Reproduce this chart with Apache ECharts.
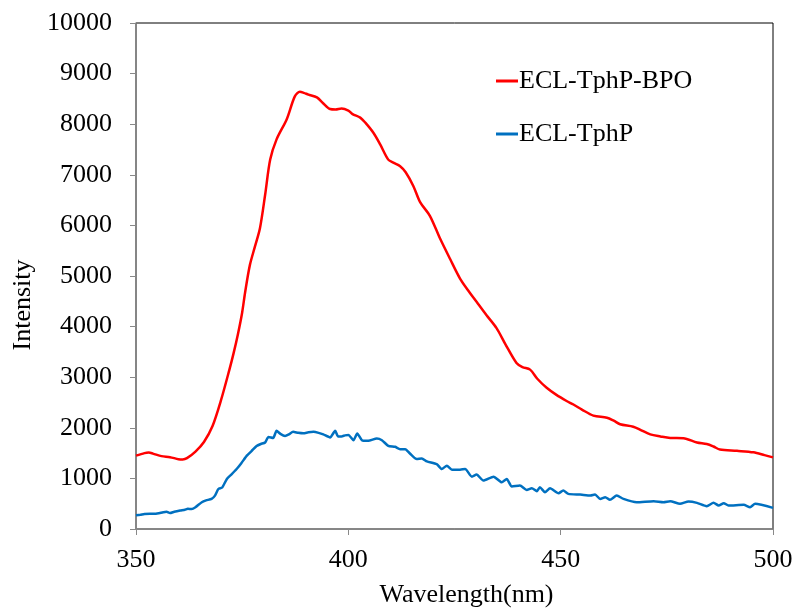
<!DOCTYPE html>
<html><head><meta charset="utf-8">
<script src="https://cdn.jsdelivr.net/npm/echarts@6/dist/echarts.min.js"></script>
<style>html,body{margin:0;padding:0;background:#fff}#c{width:798px;height:613px}</style>
</head><body><div id="c"></div>
<script>
const seriesNames = ["ECL-TphP-BPO", "ECL-TphP"];
const xTicks = [350, 400, 450, 500];
const yTicks = [0,1000,2000,3000,4000,5000,6000,7000,8000,9000,10000];

const redX = [350,352,353,354,356,358,360,361,362,364,366,368,370,372,373,374,375,375.7,376.8,378,379.2,380.4,381.6,383.1,385.5,387.4,388.6,389.5,390.6,392.6,394,395.7,397,398.4,400,401,402.8,404,405.9,407.5,409.4,410.6,412.2,413.5,415.3,416.9,419.2,421.6,424,426.3,428,430.2,432.5,434.9,437,439.6,441,442.8,444.5,446.7,449,451.4,453,455,457.7,460.9,462.5,464,467.1,469,471.1,473.5,475.8,478.9,482.1,484.4,486,487.5,491.5,495.4,498,500];
const redY = [1450,1500,1510,1490,1440,1420,1380,1375,1400,1530,1720,2030,2540,3150,3480,3850,4280,4680,5210,5580,5950,6600,7300,7700,8100,8550,8640,8620,8585,8530,8420,8300,8290,8310,8270,8200,8130,8030,7830,7600,7300,7240,7170,7050,6780,6460,6190,5740,5330,4950,4740,4490,4230,3970,3650,3280,3200,3150,2970,2790,2650,2530,2460,2360,2240,2200,2140,2070,2020,1950,1870,1830,1800,1795,1710,1680,1630,1570,1545,1515,1460,1415];

const blueX = [350,351,352,353.3,354.5,356.4,357.2,358,359,360.4,361.5,362.2,363.1,364,365.5,366.5,367.8,368.6,369.4,370.3,371.4,372.5,373.7,374.8,376.1,377.2,378.4,379.4,380.4,381.2,382.3,383.1,384,385.1,386,387,388.2,389.4,390.6,391.8,393,394.1,395.7,396.9,397.6,398.4,399.2,400,401.2,402.1,403.2,404.7,406.7,407.9,409.4,411,412.2,413.4,414.5,416.1,417.3,418.5,420.8,422,423.2,424.4,426.3,427.5,429.1,430.2,431.8,434.2,436.1,437.3,438.5,440.4,442,443.2,444.4,445.1,446.3,447.5,449.5,450.6,451.8,454.6,457,458.1,459.3,460.5,461.6,463.2,464.8,467.9,471.9,474.2,475.8,478.1,480.1,482.1,484.4,486,487.2,488.4,489.5,493.1,494.6,495.8,500];
const blueY = [270,280,295,300,300,330,340,315,340,365,380,400,395,430,530,565,595,660,790,820,990,1080,1185,1300,1450,1540,1640,1680,1710,1820,1800,1940,1880,1840,1870,1920,1900,1890,1910,1920,1900,1870,1810,1940,1830,1830,1850,1860,1755,1886,1755,1742,1788,1755,1644,1624,1578,1578,1493,1382,1395,1336,1283,1185,1251,1172,1172,1185,1035,1075,957,1035,923,988,839,859,773,806,747,825,727,806,707,760,694,681,662,681,595,629,576,662,595,530,550,530,550,497,544,517,452,517,465,511,465,478,432,497,418];

const pair = (xs, ys) => xs.map((x, i) => [x, ys[i]]);
const font = "Liberation Serif";

const chart = echarts.init(document.getElementById('c'), null, {renderer: 'canvas'});
chart.setOption({
  animation: false,
  backgroundColor: '#fff',
  grid: {left: 136, right: 25, top: 23, bottom: 81, show: true, borderColor: '#000', borderWidth: 1},
  legend: {
    orient: 'vertical', left: 491, top: 63, itemGap: 27,
    itemWidth: 22, itemHeight: 3, icon: 'rect',
    textStyle: {fontFamily: font, fontSize: 26, color: '#000', padding: [0,0,0,-4]},
    data: seriesNames
  },
  xAxis: {
    type: 'value', min: 350, max: 500, interval: 50,
    name: 'Wavelength(nm)', nameLocation: 'middle', nameGap: 53,
    nameTextStyle: {fontFamily: font, fontSize: 26, color: '#000', padding: [0,0,0,24]},
    axisLine: {lineStyle: {color: '#898989', width: 1.5}},
    axisTick: {show: true, inside: false, length: 6, lineStyle: {color: '#898989'}},
    axisLabel: {fontFamily: font, fontSize: 26, color: '#000', margin: 18,
      formatter: v => xTicks.includes(v) ? String(v) : ''},
    splitLine: {show: false}
  },
  yAxis: {
    type: 'value', min: 0, max: 10000, interval: 1000,
    name: 'Intensity', nameLocation: 'middle', nameGap: 98, nameRotate: 90,
    nameTextStyle: {fontFamily: font, fontSize: 26, color: '#000', padding: [0,58,0,0]},
    axisLine: {show: true, lineStyle: {color: '#898989', width: 1.5}},
    axisTick: {show: true, inside: false, length: 6, lineStyle: {color: '#898989'}},
    axisLabel: {fontFamily: font, fontSize: 26, color: '#000', margin: 24,
      formatter: v => yTicks.includes(v) ? String(v) : ''},
    splitLine: {show: false}
  },
  series: [
    {name: seriesNames[0], type: 'line', data: pair(redX, redY), showSymbol: false, smooth: 0.3,
     lineStyle: {color: '#FF0000', width: 2.5}, itemStyle: {color: '#FF0000'}},
    {name: seriesNames[1], type: 'line', data: pair(blueX, blueY), showSymbol: false, smooth: 0.2,
     lineStyle: {color: '#0070C0', width: 2.5}, itemStyle: {color: '#0070C0'}}
  ]
});
</script></body></html>
